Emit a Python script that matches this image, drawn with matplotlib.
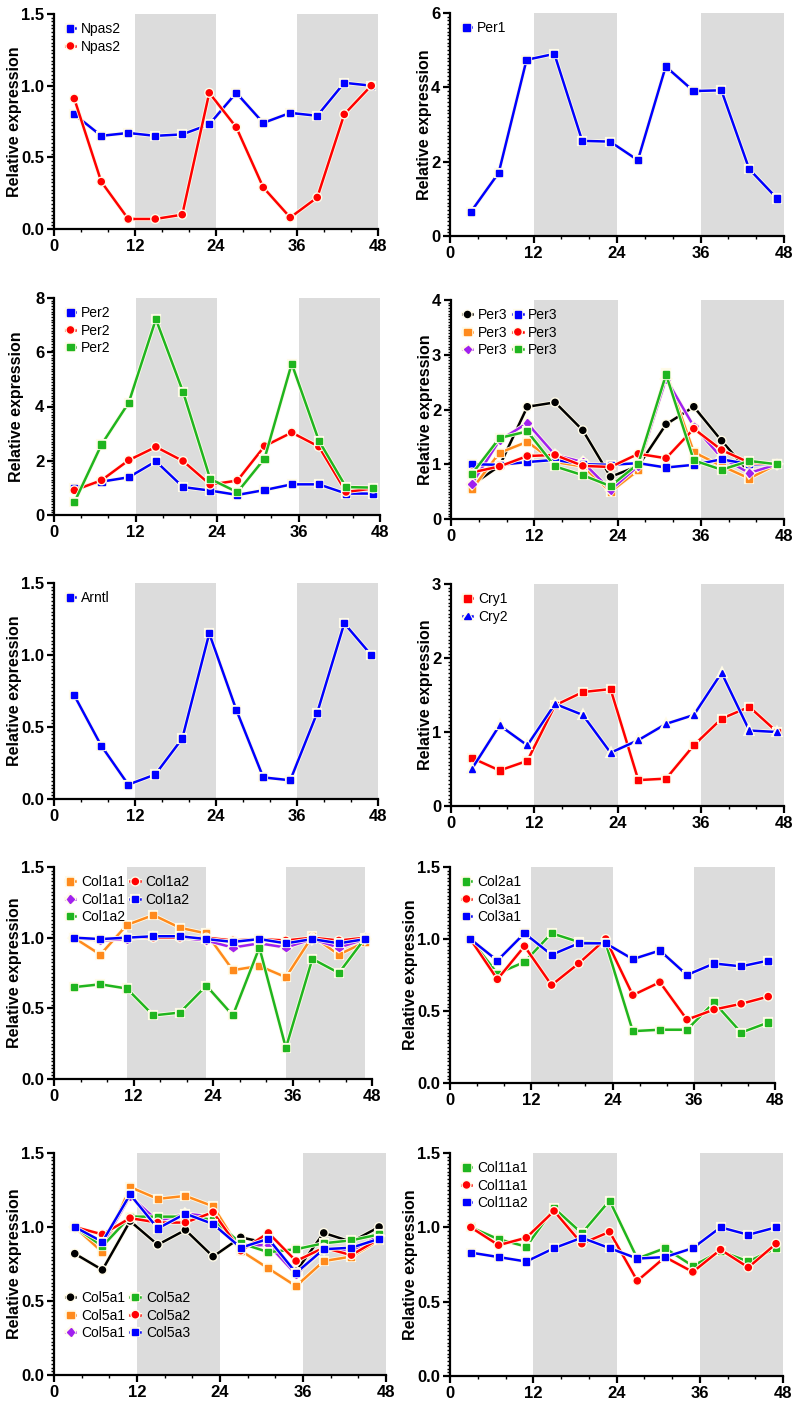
import numpy as np
import matplotlib
matplotlib.use("Agg")
import matplotlib.pyplot as plt
import matplotlib.patheffects as pe
from matplotlib.ticker import MultipleLocator, AutoMinorLocator

plt.rcParams['font.family'] = ['Liberation Sans', 'DejaVu Sans']

# sampling times (h)
t = [3, 7, 11, 15, 19, 23, 27, 31, 35, 39, 43, 47]

# colours
BLUE = '#0000ff'
RED = '#ff0000'
GREEN = '#1fb51f'
ORANGE = '#ff8a1c'
PURPLE = '#a020f0'
BLACK = '#000000'

# --- data ---
npas2_a = [0.80, 0.65, 0.67, 0.65, 0.66, 0.73, 0.95, 0.74, 0.81, 0.79, 1.02, 1.00]
npas2_b = [0.91, 0.33, 0.07, 0.07, 0.10, 0.95, 0.71, 0.29, 0.08, 0.22, 0.80, 1.00]

per1 = [0.65, 1.70, 4.74, 4.90, 2.56, 2.54, 2.04, 4.56, 3.90, 3.92, 1.80, 1.01]

per2_a = [0.98, 1.23, 1.39, 1.98, 1.03, 0.90, 0.74, 0.92, 1.13, 1.13, 0.79, 0.79]
per2_b = [0.91, 1.28, 2.02, 2.51, 1.99, 1.12, 1.27, 2.54, 3.04, 2.52, 0.85, 0.98]
per2_c = [0.47, 2.60, 4.14, 7.22, 4.54, 1.33, 0.84, 2.08, 5.58, 2.74, 1.03, 1.01]

per3_k = [0.62, 0.97, 2.05, 2.13, 1.62, 0.77, 0.97, 1.73, 2.05, 1.43, 0.85, 1.00]
per3_o = [0.54, 1.21, 1.41, 1.04, 0.96, 0.50, 0.89, 2.67, 1.22, 0.97, 0.74, 1.00]
per3_p = [0.64, 1.44, 1.75, 1.17, 1.04, 0.53, 0.97, 2.56, 1.69, 1.12, 0.84, 1.00]
per3_b = [1.00, 0.99, 1.04, 1.08, 1.00, 0.99, 1.02, 0.94, 0.99, 1.09, 1.00, 1.00]
per3_r = [0.85, 0.96, 1.15, 1.17, 0.97, 0.95, 1.19, 1.11, 1.65, 1.26, 1.03, 1.00]
per3_g = [0.82, 1.48, 1.60, 0.96, 0.80, 0.60, 1.01, 2.64, 1.07, 0.90, 1.06, 1.00]

arntl = [0.72, 0.37, 0.10, 0.17, 0.42, 1.15, 0.62, 0.15, 0.13, 0.60, 1.22, 1.00]

cry1 = [0.65, 0.48, 0.61, 1.36, 1.54, 1.58, 0.35, 0.37, 0.82, 1.18, 1.34, 1.00]
cry2 = [0.50, 1.09, 0.82, 1.38, 1.23, 0.72, 0.89, 1.11, 1.23, 1.80, 1.02, 1.00]

col1a1_o = [1.00, 0.88, 1.09, 1.16, 1.07, 1.03, 0.77, 0.80, 0.72, 1.01, 0.88, 0.97]
col1a1_p = [1.00, 0.98, 0.99, 1.01, 1.00, 0.98, 0.93, 0.96, 0.93, 0.99, 0.93, 0.99]
col1a2_g = [0.65, 0.67, 0.64, 0.45, 0.47, 0.66, 0.45, 0.93, 0.22, 0.85, 0.75, 1.00]
col1a2_r = [1.00, 0.99, 1.00, 1.00, 1.00, 1.00, 0.98, 0.99, 0.98, 1.00, 0.98, 1.00]
col1a2_b = [1.00, 0.99, 1.00, 1.01, 1.01, 0.99, 0.97, 0.99, 0.96, 0.99, 0.96, 0.99]

col2a1 = [1.00, 0.76, 0.84, 1.04, 0.98, 0.97, 0.36, 0.37, 0.37, 0.56, 0.35, 0.42]
col3a1_r = [1.00, 0.72, 0.95, 0.68, 0.83, 1.00, 0.61, 0.70, 0.44, 0.51, 0.55, 0.60]
col3a1_b = [1.00, 0.85, 1.04, 0.89, 0.97, 0.97, 0.86, 0.92, 0.75, 0.83, 0.81, 0.85]

col5a1_k = [0.82, 0.71, 1.04, 0.88, 0.98, 0.80, 0.93, 0.89, 0.70, 0.96, 0.90, 1.00]
col5a1_o = [1.00, 0.83, 1.27, 1.19, 1.21, 1.14, 0.84, 0.72, 0.60, 0.77, 0.80, 0.91]
col5a1_p = [1.00, 0.88, 1.21, 1.04, 1.09, 1.07, 0.87, 0.88, 0.68, 0.85, 0.84, 0.94]
col5a2_g = [1.00, 0.87, 1.07, 1.07, 1.07, 1.05, 0.89, 0.83, 0.85, 0.89, 0.91, 0.95]
col5a2_r = [1.00, 0.95, 1.06, 1.03, 1.03, 1.10, 0.84, 0.96, 0.77, 0.86, 0.81, 0.92]
col5a3_b = [1.00, 0.90, 1.22, 0.99, 1.09, 1.02, 0.86, 0.92, 0.69, 0.85, 0.86, 0.92]

col11a1_g = [1.00, 0.92, 0.87, 1.13, 0.96, 1.18, 0.79, 0.86, 0.74, 0.84, 0.77, 0.86]
col11a1_r = [1.00, 0.88, 0.93, 1.11, 0.89, 0.97, 0.64, 0.80, 0.70, 0.85, 0.73, 0.89]
col11a2_b = [0.83, 0.80, 0.77, 0.86, 0.93, 0.86, 0.79, 0.80, 0.86, 1.00, 0.95, 1.00]

W, H = 800, 1403
fig = plt.figure(figsize=(W / 100, H / 100), dpi=100)


def make_ax(left, right, top, bottom):
    ax = fig.add_axes([left / W, 1 - bottom / H, (right - left) / W, (bottom - top) / H])
    ax.width_px = right - left
    return ax


halo = [pe.Stroke(linewidth=3.0, foreground='#fffbe8'), pe.Normal()]


def panel(ax, series, ymax, ymajor, shade=((12, 24), (36, 48)), ncol=1,
          loc='upper left', anchor=(0.01, 1.0), label_gap=32):
    for a, b in shade:
        ax.axvspan(a, b, color='#dcdcdc', lw=0, zorder=0)
    for y, c, m, lab in series:
        ms = 3.8 if m == 'D' else 4.4
        ax.plot(t, y, color=c, marker=m, ms=ms, lw=1.8, label=lab,
                path_effects=halo, zorder=3)
    ax.set_xlim(0, 48)
    ax.set_ylim(0, ymax)
    ax.xaxis.set_major_locator(MultipleLocator(12))
    ax.xaxis.set_minor_locator(MultipleLocator(4))
    ax.yaxis.set_major_locator(MultipleLocator(ymajor))
    ax.yaxis.set_minor_locator(AutoMinorLocator(20))
    for s in ['top', 'right']:
        ax.spines[s].set_visible(False)
    for s in ['left', 'bottom']:
        ax.spines[s].set_linewidth(1.6)
    ax.tick_params(which='major', length=5, width=1.6, labelsize=12, pad=2)
    ax.tick_params(which='minor', length=2.5, width=1.0)
    for lb in ax.get_xticklabels() + ax.get_yticklabels():
        lb.set_fontweight('bold')
    ax.set_ylabel('Relative expression', fontsize=11.5, fontweight='bold')
    ax.yaxis.set_label_coords(-label_gap / ax.width_px, 0.5)
    ax.legend(loc=loc, bbox_to_anchor=anchor, ncol=ncol, frameon=False, fontsize=10,
              handlelength=0.7, handletextpad=0.4, labelspacing=0.25,
              columnspacing=0.4, borderaxespad=0.2)


fmt1 = lambda v, p: f'{v:.1f}'

# row 1
ax = make_ax(54, 378, 14, 229)
panel(ax, [(npas2_a, BLUE, 's', 'Npas2'), (npas2_b, RED, 'o', 'Npas2')], 1.5, 0.5)
ax.yaxis.set_major_formatter(fmt1)

ax = make_ax(450, 784, 13, 236)
panel(ax, [(per1, BLUE, 's', 'Per1')], 6, 2, label_gap=18)

# row 2
ax = make_ax(54, 380, 298, 515)
panel(ax, [(per2_a, BLUE, 's', 'Per2'), (per2_b, RED, 'o', 'Per2'),
           (per2_c, GREEN, 's', 'Per2')], 8, 2, label_gap=30)

ax = make_ax(451, 784, 300, 519)
panel(ax, [(per3_k, BLACK, 'o', 'Per3'), (per3_o, ORANGE, 's', 'Per3'),
           (per3_p, PURPLE, 'D', 'Per3'), (per3_b, BLUE, 's', 'Per3'),
           (per3_r, RED, 'o', 'Per3'), (per3_g, GREEN, 's', 'Per3')], 4, 1, ncol=2,
      label_gap=18)

# row 3
ax = make_ax(54, 378, 583, 799)
panel(ax, [(arntl, BLUE, 's', 'Arntl')], 1.5, 0.5)
ax.yaxis.set_major_formatter(fmt1)

ax = make_ax(451, 784, 584, 806)
panel(ax, [(cry1, RED, 's', 'Cry1'), (cry2, BLUE, '^', 'Cry2')], 3, 1, label_gap=18)

# row 4
ax = make_ax(54, 372, 867, 1079)
panel(ax, [(col1a1_o, ORANGE, 's', 'Col1a1'), (col1a1_p, PURPLE, 'D', 'Col1a1'),
           (col1a2_g, GREEN, 's', 'Col1a2'), (col1a2_r, RED, 'o', 'Col1a2'),
           (col1a2_b, BLUE, 's', 'Col1a2')], 1.5, 0.5,
      shade=((11, 23), (35, 47)), ncol=2)
ax.yaxis.set_major_formatter(fmt1)

ax = make_ax(450, 775, 867, 1083)
panel(ax, [(col2a1, GREEN, 's', 'Col2a1'), (col3a1_r, RED, 'o', 'Col3a1'),
           (col3a1_b, BLUE, 's', 'Col3a1')], 1.5, 0.5)
ax.yaxis.set_major_formatter(fmt1)

# row 5
ax = make_ax(54, 386, 1153, 1375)
panel(ax, [(col5a1_k, BLACK, 'o', 'Col5a1'), (col5a1_o, ORANGE, 's', 'Col5a1'),
           (col5a1_p, PURPLE, 'D', 'Col5a1'), (col5a2_g, GREEN, 's', 'Col5a2'),
           (col5a2_r, RED, 'o', 'Col5a2'), (col5a3_b, BLUE, 's', 'Col5a3')], 1.5, 0.5,
      ncol=2, loc='lower left', anchor=(0.01, 0.12))
ax.yaxis.set_major_formatter(fmt1)

ax = make_ax(450, 783, 1153, 1376)
panel(ax, [(col11a1_g, GREEN, 's', 'Col11a1'), (col11a1_r, RED, 'o', 'Col11a1'),
           (col11a2_b, BLUE, 's', 'Col11a2')], 1.5, 0.5)
ax.yaxis.set_major_formatter(fmt1)

fig.savefig('out.png', dpi=100)
